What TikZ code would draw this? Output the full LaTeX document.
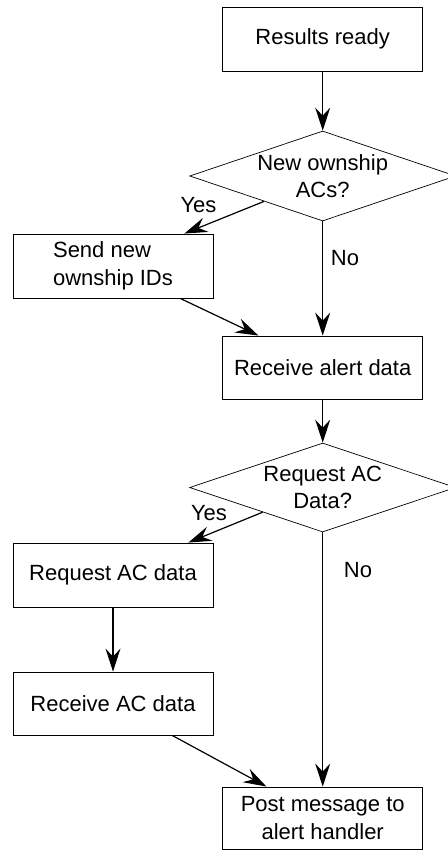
\documentclass[tikz,border=0pt]{standalone}
\usepackage{fontspec}
\setmainfont{Liberation Sans}
\usetikzlibrary{arrows.meta,calc,shapes.geometric}
\newcommand\flowfont{\fontsize{22}{27.5}\selectfont}

\begin{document}
\begin{tikzpicture}[x=1pt,y=-1pt,
  stepbox/.style={draw, line width=0.9pt, minimum width=200pt, inner sep=0pt,
    font=\flowfont, align=center},
  decision/.style={draw, line width=0.7pt, shape=diamond, inner sep=0pt,
    minimum width=266pt, minimum height=90pt},
  dtext/.style={font=\flowfont, align=center},
  tag/.style={font=\flowfont, anchor=base},
  arr/.style={line width=1.2pt, -{Stealth[length=23pt,width=15pt,inset=8pt]}}]

\useasboundingbox (0,0) rectangle (447,850);

% process boxes
\node[stepbox, minimum height=64pt] (start) at (322.7,39)    {Results ready};
\node[stepbox, minimum height=64pt] (send)  at (113,266)     {\begin{tabular}{@{}l@{}}Send new\\ownship IDs\end{tabular}};
\node[stepbox, minimum height=63pt] (recv)  at (322.7,367.5) {Receive alert data};
\node[stepbox, minimum height=64pt] (reqac) at (113,575)     {Request AC data};
\node[stepbox, minimum height=63pt] (recac) at (113,703.5)   {Receive AC data};
\node[stepbox, minimum height=62pt] (post)  at (322.7,818)   {Post message to\\alert handler};

% decisions
\node[decision] (q1) at (322.7,176) {};
\node[dtext] (q1t) at (q1.center) {New ownship\\ACs?};
\node[decision, minimum height=89pt] (q2) at (322.7,487.5) {};
\node[dtext] (q2t) at (q2.center) {Request AC\\Data?};

% branch labels
\node[tag] (y1) at (198.5,213) {Yes};
\node[tag] (n1) at (345,265)   {No};
\node[tag] (y2) at (209,520)   {Yes};
\node[tag] (n2) at (358,577)   {No};

% connectors
\draw[arr] (start) -- (q1);
\draw[arr] ($(q1.west)!0.56!(q1.south)$) -- ($(send.north west)!0.855!(send.north east)$);
\draw[arr] (q1.south) -- (recv.north);
\draw[arr] ($(send.south west)!0.835!(send.south east)$) -- ($(recv.north west)!0.18!(recv.north east)$);
\draw[arr] (recv) -- (q2);
\draw[arr] ($(q2.west)!0.55!(q2.south)$) -- ($(reqac.north west)!0.875!(reqac.north east)$);
\draw[arr] (reqac) -- (recac);
\draw[arr] ($(recac.south west)!0.795!(recac.south east)$) -- ($(post.north west)!0.22!(post.north east)$);
\draw[arr] (q2.south) -- (post.north);
\end{tikzpicture}
\end{document}
